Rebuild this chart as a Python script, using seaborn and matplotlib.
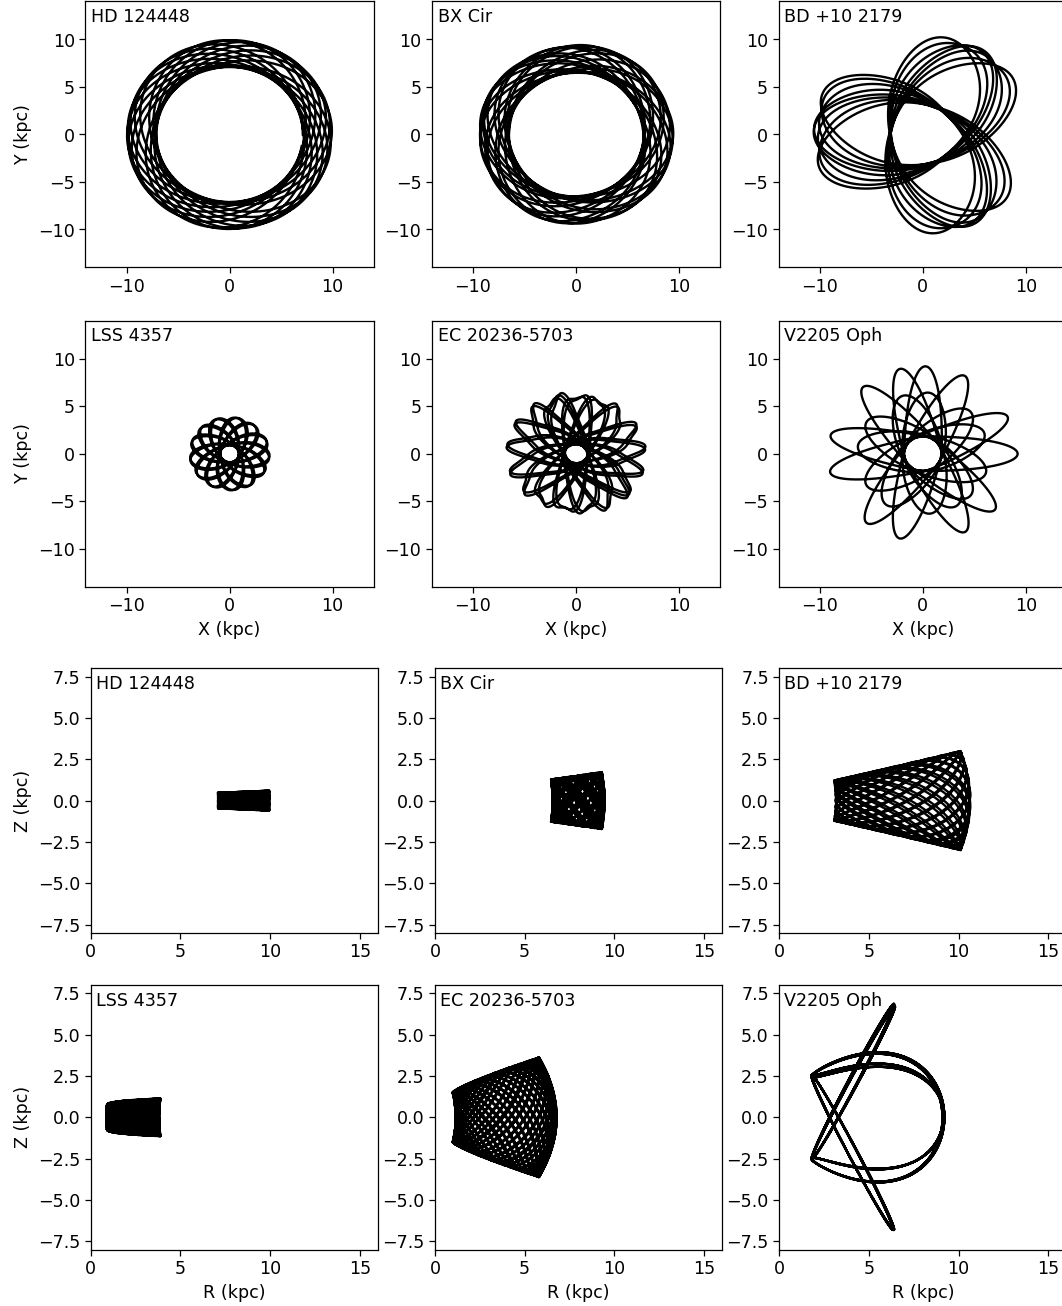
import numpy as np
import pandas as pd
import matplotlib
matplotlib.use("Agg")
import matplotlib.pyplot as plt
import seaborn as sns

STARS = ["HD 124448", "BX Cir", "BD +10 2179", "LSS 4357", "EC 20236-5703", "V2205 Oph"]

# ---- disc-like orbits (first five stars) -------------------------------
# midplane pericentre / apocentre radii (kpc)
R_PERI = [7.10, 6.55, 3.15, 0.88, 1.15]
R_APO = [9.95, 9.45, 10.65, 3.82, 6.78]
# vertical excursion (kpc) reached at pericentre and at apocentre
Z_PERI = [0.47, 1.28, 1.22, 0.72, 1.50]
Z_APO = [0.60, 1.72, 3.00, 1.14, 3.62]
Z_SHAPE = [1.0, 1.0, 1.0, 0.35, 0.8]
# curvature of the inner/outer edges of the meridional envelope
EDGE_BEND = [0.0, 0.05, 0.06, -0.05, 0.075]
# vertical-to-radial frequency ratio
NU_KAPPA = [1.618, 1.382, 1.045, 1.618, 1.414]
# azimuth swept per radial period (deg)
APSIDAL_DEG = [245.0, 250.0, 242.0, 221.2, 212.0]
N_RADIAL = [22, 24, 22, 26, 36]
PHI_START_DEG = [0.0, 30.0, 35.0, 0.0, 0.0]
Z_PHASE_DEG = [0.0, 40.0, 90.0, 20.0, 60.0]
# how strongly the angular speed peaks at pericentre
ANG_POWER = [1.0, 1.0, 1.0, 1.0, 1.25]

# ---- resonant orbit of V2205 Oph, one entry per radial period ----------
V_R_PERI = 1.8
V_R_APO = [9.20, 6.40, 9.15, 6.35, 9.10, 6.45, 9.20, 6.40]
V_Z_NODE = [2.50, -2.50, -2.45, 2.55, 2.50, -2.55, -2.50, 2.45, 2.50]
V_Z_PEAK = [0.0, 9.30, 0.0, -9.30, 0.0, 9.20, 0.0, -9.25]
V_Z_BULGE = [0.40, 0.60, 0.34, -0.60, 0.30, 0.55, 0.42, -0.55]
V_REPEATS = 3
V_APSIDAL_DEG = 212.0
V_PHI_START_DEG = 10.0
V_ANG_POWER = 1.5

XY_LIM = (-14, 14)
R_LIM = (0, 16)
Z_LIM = (-8, 8)

DPI = 100
W, H = 1062, 1306
plt.rcParams.update({
    "font.size": 12.6,
    "axes.linewidth": 0.9,
    "xtick.major.size": 4.0,
    "ytick.major.size": 4.0,
    "xtick.major.width": 0.9,
    "ytick.major.width": 0.9,
})
LW_PLANE = 1.7
LW_MERID = 1.7


def cumulative(f, t):
    return np.concatenate([[0.0], np.cumsum(0.5 * (f[1:] + f[:-1]) * np.diff(t))])


def disc_orbit(i, pts=600):
    t = np.linspace(0.0, 2 * np.pi * N_RADIAL[i], pts * N_RADIAL[i] + 1)
    rm = 0.5 * (R_APO[i] + R_PERI[i])
    ra = 0.5 * (R_APO[i] - R_PERI[i])
    rb = rm - ra * np.cos(t)
    s = np.clip((rb - R_PERI[i]) / (R_APO[i] - R_PERI[i]), 0, 1)
    zamp = Z_PERI[i] + (Z_APO[i] - Z_PERI[i]) * s ** Z_SHAPE[i]
    z = zamp * np.cos(NU_KAPPA[i] * t + np.radians(Z_PHASE_DEG[i]))
    r = rb - EDGE_BEND[i] * z ** 2
    turn = cumulative(rb ** -ANG_POWER[i], t)
    k = np.radians(APSIDAL_DEG[i]) * N_RADIAL[i] / turn[-1]
    phi = np.radians(PHI_START_DEG[i]) + k * turn
    return pd.DataFrame({"x": r * np.cos(phi), "y": r * np.sin(phi), "R": r, "z": z})


def resonant_orbit(pts=600):
    rs, zs = [], []
    tt = np.linspace(0.0, 2 * np.pi, pts + 1)[:-1]
    swing = np.cos(tt / 2) * (2 - np.cos(tt))   # +1 -> -1 with a broad arc between
    for _ in range(V_REPEATS):
        for j, rap in enumerate(V_R_APO):
            za, zb = V_Z_NODE[j], V_Z_NODE[j + 1]
            rs.append(V_R_PERI + (rap - V_R_PERI) * (1 - np.cos(tt)) / 2)
            zs.append(0.5 * (za + zb) + 0.5 * (za - zb) * swing
                      + V_Z_BULGE[j] * np.sin(tt) + V_Z_PEAK[j] * (1 - np.cos(tt)) / 2)
    r = np.concatenate(rs + [rs[0][:1]])
    z = np.concatenate(zs + [zs[0][:1]])
    t = np.arange(len(r)) * (2 * np.pi / pts)
    turn = cumulative(r ** -V_ANG_POWER, t)
    n_cyc = len(V_R_APO) * V_REPEATS
    k = np.radians(V_APSIDAL_DEG) * n_cyc / turn[-1]
    phi = np.radians(V_PHI_START_DEG) + k * turn
    return pd.DataFrame({"x": r * np.cos(phi), "y": r * np.sin(phi), "R": r, "z": z})


orbits = [disc_orbit(i) for i in range(5)] + [resonant_orbit()]

fig = plt.figure(figsize=((W + 0.01) / DPI, (H + 0.01) / DPI), dpi=DPI)


def add_axes(left, top, w, h):
    return fig.add_axes([left / W, 1 - (top + h) / H, w / W, h / H])


xy_cols = [85.3, 431.8, 778.5]
xy_rows = [1.5, 320.7]
rz_cols = [90.7, 435.0, 779.3]
rz_rows = [668.3, 985.0]

for n, (name, orb) in enumerate(zip(STARS, orbits)):
    row, col = divmod(n, 3)

    ax = add_axes(xy_cols[col], xy_rows[row], 288.6, 266.0)
    sns.lineplot(data=orb, x="x", y="y", sort=False, estimator=None,
                 color="black", linewidth=LW_PLANE, ax=ax)
    ax.set_xlim(*XY_LIM)
    ax.set_ylim(*XY_LIM)
    ax.set_xticks([-10, 0, 10])
    ax.set_yticks([-10, -5, 0, 5, 10])
    ax.text(0.02, 0.975, name, transform=ax.transAxes, ha="left", va="top")
    ax.set_xlabel("X (kpc)" if row == 1 else "")
    ax.set_ylabel("Y (kpc)" if col == 0 else "")

    ax = add_axes(rz_cols[col], rz_rows[row], 287.0, 264.6)
    sns.lineplot(data=orb, x="R", y="z", sort=False, estimator=None,
                 color="black", linewidth=LW_MERID, ax=ax)
    ax.set_xlim(*R_LIM)
    ax.set_ylim(*Z_LIM)
    ax.set_xticks([0, 5, 10, 15])
    ax.set_yticks([-7.5, -5.0, -2.5, 0.0, 2.5, 5.0, 7.5])
    ax.text(0.017, 0.975, name, transform=ax.transAxes, ha="left", va="top")
    ax.set_xlabel("R (kpc)" if row == 1 else "")
    ax.set_ylabel("Z (kpc)" if col == 0 else "")

fig.savefig("out.png", dpi=DPI)
